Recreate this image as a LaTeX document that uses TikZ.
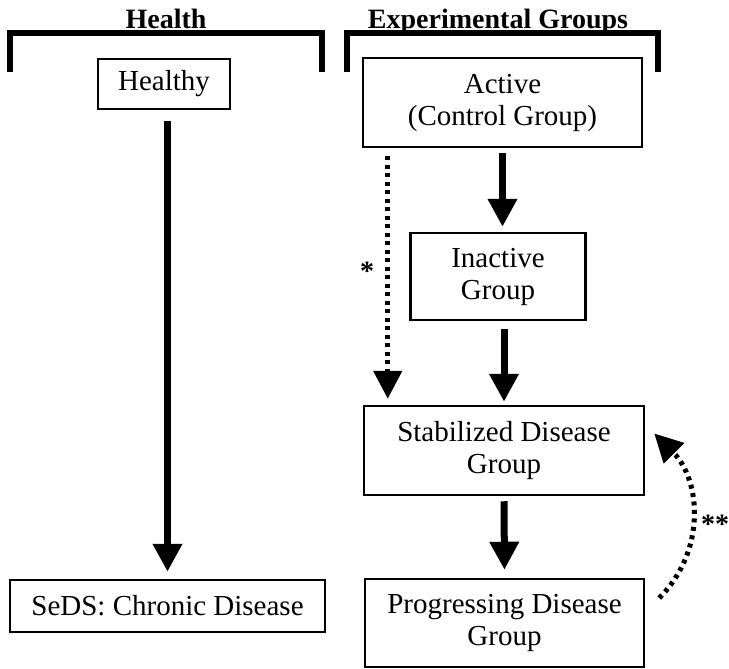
\documentclass[tikz,border=0pt]{standalone}
\usepackage{fontspec}
\setmainfont{Liberation Serif}
\usetikzlibrary{arrows.meta}
\begin{document}
\begin{tikzpicture}[x=1pt,y=-1pt,
  box/.style={draw, line width=2.5pt, inner sep=0pt, align=center, font=\fontsize{29}{32}\selectfont},
  grouptitle/.style={font=\bfseries\fontsize{28}{30}\selectfont, anchor=base, inner sep=0pt},
  bracketline/.style={line width=6pt},
  flow/.style={line width=7pt, -{Triangle[width=28pt,length=28pt]}},
  dotflow/.style={line width=5pt, dash pattern=on 4pt off 4.5pt, -{Triangle[width=28pt,length=28pt]}},
  starlabel/.style={font=\bfseries\fontsize{28}{30}\selectfont, inner sep=0pt}
]
\useasboundingbox (0,0) rectangle (729,669);

% titles
\node[grouptitle] (thealth) at (166,29) {Health};
\node[grouptitle] (texp) at (498,29) {Experimental Groups};

% brackets
\coordinate (lb1) at (10,72);
\coordinate (lb2) at (10,33);
\coordinate (lb3) at (322,33);
\coordinate (lb4) at (322,72);
\draw[bracketline] (lb1) -- (lb2) -- (lb3) -- (lb4);
\coordinate (rb1) at (347,72);
\coordinate (rb2) at (347,33);
\coordinate (rb3) at (658,33);
\coordinate (rb4) at (658,72);
\draw[bracketline] (rb1) -- (rb2) -- (rb3) -- (rb4);

% boxes
\node[box, minimum width=132pt, minimum height=50pt] (healthy) at (164,84) {Healthy};
\node[box, minimum width=315pt, minimum height=52pt] (seds) at (167.5,606) {SeDS: Chronic Disease};
\node[box, minimum width=279pt, minimum height=89pt] (active) at (502.5,102.5) {Active\\(Control Group)};
\node[box, minimum width=175pt, minimum height=87pt] (inactive) at (498,276.5) {Inactive\\Group};
\node[box, minimum width=280pt, minimum height=89pt] (stab) at (504,450.5) {Stabilized Disease\\Group};
\node[box, minimum width=279pt, minimum height=88pt] (prog) at (504.5,623) {Progressing Disease\\Group};

% arrows
\draw[flow, shorten <=11pt, shorten >=7pt] (healthy.south -| seds.north) -- (seds.north);
\draw[flow, shorten <=5pt, shorten >=5pt] (active.south) -- (active.south |- inactive.north);
\draw[flow, shorten <=8pt, shorten >=3pt] (stab.north |- inactive.south) -- (stab.north);
\draw[flow, shorten <=5pt, shorten >=8pt] (stab.south) -- (prog.north);

\draw[dotflow, shorten <=8pt, shorten >=6pt] ([xshift=26pt]active.south west) -- ([xshift=25pt]stab.north west);
\node[starlabel] (star1) at (367,271) {*};

\draw[dotflow] ([shift={(14,-25)}]prog.east) .. controls +(47,-47) and +(47,47) .. ([shift={(9,-17)}]stab.east);
\node[starlabel] (star2) at (715,524) {**};
\end{tikzpicture}
\end{document}
